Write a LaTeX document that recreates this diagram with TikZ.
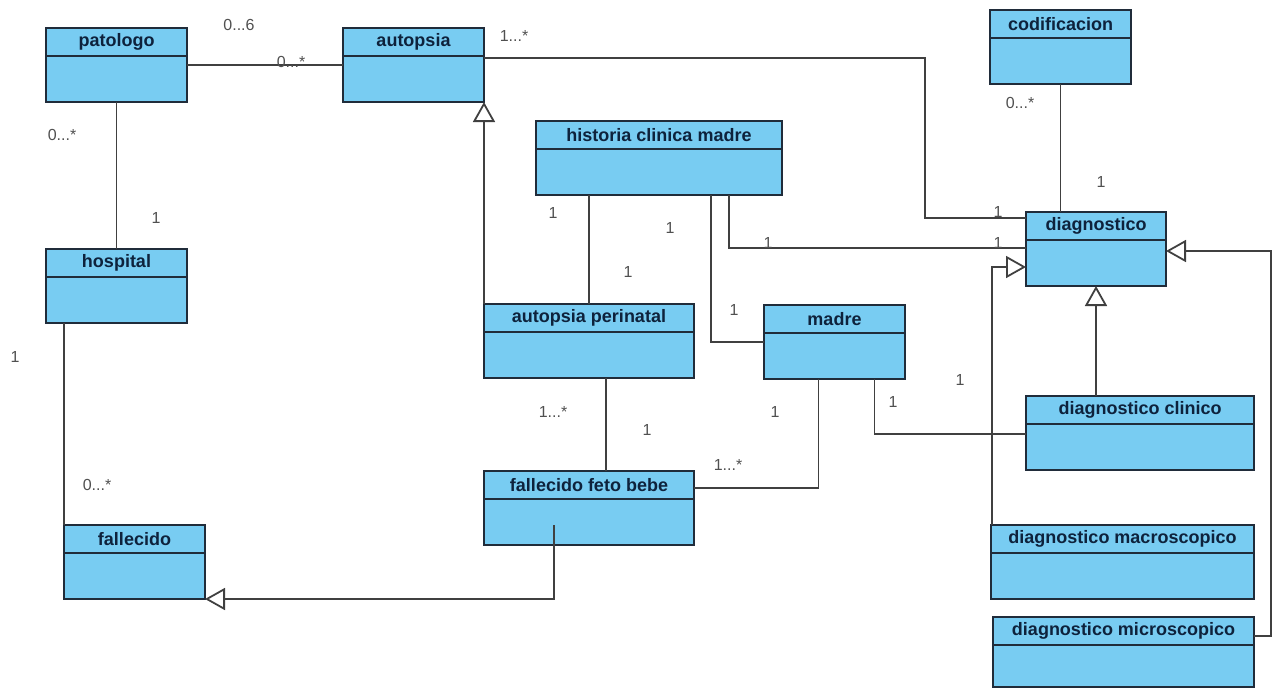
\documentclass[tikz,border=0pt]{standalone}
\usepackage{fontspec}
\setmainfont{Liberation Sans}
\usetikzlibrary{arrows.meta,positioning}
\definecolor{classfill}{RGB}{120,204,242}
\definecolor{classline}{RGB}{32,44,58}
\definecolor{classtext}{RGB}{14,34,60}
\definecolor{multi}{RGB}{80,80,80}
\begin{document}
\begin{tikzpicture}[x=1pt,y=-1pt,
	head/.style={draw=classline,line width=1.8pt,fill=classfill,minimum height=28pt,inner sep=0pt,outer sep=0pt,text=classtext,font=\bfseries\fontsize{18}{20}\selectfont},
	body/.style={draw=classline,line width=1.8pt,fill=classfill,minimum height=46pt,inner sep=0pt,outer sep=0pt},
	assoc/.style={draw=black!75,line width=1.8pt},
	gen/.style={assoc,-{Triangle[open,length=20pt,width=22pt]}},
	mult/.style={text=multi,font=\fontsize{16}{18}\selectfont,inner sep=0pt}]
	\useasboundingbox (0,0) rectangle (1277,689);

	\node (patologo) [head,minimum width=141pt] at (116.5,42) {patologo};
	\node (patologoB) [body,minimum width=141pt,below=0pt of patologo] {};
	\node (autopsia) [head,minimum width=141pt] at (413.5,42) {autopsia};
	\node (autopsiaB) [body,minimum width=141pt,below=0pt of autopsia] {};
	\node (codificacion) [head,minimum width=141pt] at (1060.5,24) {codificacion};
	\node (codificacionB) [body,minimum width=141pt,below=0pt of codificacion] {};
	\node (hcm) [head,minimum width=246pt] at (659,135) {historia clinica madre};
	\node (hcmB) [body,minimum width=246pt,below=0pt of hcm] {};
	\node (diagnostico) [head,minimum width=140pt] at (1096,226) {diagnostico};
	\node (diagnosticoB) [body,minimum width=140pt,below=0pt of diagnostico] {};
	\node (hospital) [head,minimum width=141pt] at (116.5,263) {hospital};
	\node (hospitalB) [body,minimum width=141pt,below=0pt of hospital] {};
	\node (fallecido) [head,minimum width=141pt] at (134.5,539) {fallecido};
	\node (fallecidoB) [body,minimum width=141pt,below=0pt of fallecido] {};
	\node (ap) [head,minimum width=210pt] at (589,318) {autopsia perinatal};
	\node (apB) [body,minimum width=210pt,below=0pt of ap] {};
	\node (madre) [head,minimum width=141pt] at (834.5,319) {madre};
	\node (madreB) [body,minimum width=141pt,below=0pt of madre] {};
	\node (ffb) [head,minimum width=210pt] at (589,485) {fallecido feto bebe};
	\node (ffbB) [body,minimum width=210pt,below=0pt of ffb] {};
	\node (dclin) [head,minimum width=228pt] at (1140,410) {diagnostico clinico};
	\node (dclinB) [body,minimum width=228pt,below=0pt of dclin] {};
	\node (dmacro) [head,minimum width=263pt] at (1122.5,539) {diagnostico macroscopico};
	\node (dmacroB) [body,minimum width=263pt,below=0pt of dmacro] {};
	\node (dmicro) [head,minimum width=261pt] at (1123.5,631) {diagnostico microscopico};
	\node (dmicroB) [body,minimum width=261pt,minimum height=42pt,below=0pt of dmicro] {};

	\draw[assoc] ([yshift=14pt]patologoB.east) -- ([yshift=14pt]autopsiaB.west);
	\draw[assoc] (patologoB.south) -- (hospital.north);
	\draw[assoc] ([yshift=21pt]autopsiaB.east) -| ([xshift=-101pt,yshift=8pt]diagnostico.west) -- ([yshift=8pt]diagnostico.west);
	\draw[assoc] ([xshift=70pt]hcmB.south) |- ([yshift=15pt]diagnosticoB.west);
	\draw[assoc] (ap.north) -- (ap.north |- hcmB.south);
	\draw[assoc] ([xshift=52pt]hcmB.south) |- ([yshift=14pt]madreB.west);
	\draw[gen] (ap.north west) -- (autopsiaB.south east);
	\draw[assoc] ([xshift=17pt]apB.south) -- ([xshift=17pt]ffb.north);
	\draw[assoc] ([xshift=-16pt]madreB.south) |- ([yshift=-3pt]ffb.east);
	\draw[assoc] ([xshift=40pt]madreB.south) |- ([yshift=13pt]dclinB.west);
	\draw[gen] ([xshift=-35pt,yshift=-3pt]ffbB.center) |- (fallecidoB.south east);
	\draw[gen] (diagnosticoB.south |- dclin.north) -- (diagnosticoB.south);
	\draw[gen] ([xshift=1pt]dmacro.north west) |- ([yshift=-4pt]diagnosticoB.west);
	\draw[gen] ([yshift=-5pt]dmicro.east) -- ++(17pt,0) |- ([yshift=12pt]diagnosticoB.east);
	\draw[assoc] (codificacionB.south) -- (codificacionB.south |- diagnostico.north);
	\draw[assoc] (fallecido.north west) -- (fallecido.north west |- hospitalB.south);

	\node (l1) [mult] at (239,25) {0...6};
	\node (l2) [mult] at (291,62) {0...*};
	\node (l3) [mult] at (62,135) {0...*};
	\node (l4) [mult] at (156,218) {1};
	\node (l5) [mult] at (514,36) {1...*};
	\node (l6) [mult] at (998,212) {1};
	\node (l7) [mult] at (998,243) {1};
	\node (l8) [mult] at (768,243) {1};
	\node (l9) [mult] at (553,213) {1};
	\node (l10) [mult] at (670,228) {1};
	\node (l11) [mult] at (628,272) {1};
	\node (l12) [mult] at (734,310) {1};
	\node (l13) [mult] at (553,412) {1...*};
	\node (l14) [mult] at (647,430) {1};
	\node (l15) [mult] at (775,412) {1};
	\node (l16) [mult] at (728,465) {1...*};
	\node (l17) [mult] at (893,402) {1};
	\node (l18) [mult] at (960,380) {1};
	\node (l19) [mult] at (1020,103) {0...*};
	\node (l20) [mult] at (1101,182) {1};
	\node (l21) [mult] at (15,357) {1};
	\node (l22) [mult] at (97,485) {0...*};
\end{tikzpicture}
\end{document}
